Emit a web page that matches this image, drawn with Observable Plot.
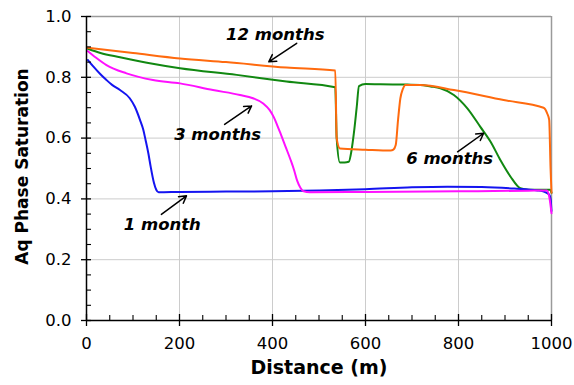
<!DOCTYPE html>
<html>
<head>
<meta charset="utf-8">
<script src="https://cdn.jsdelivr.net/npm/d3@7"></script>
<script src="https://cdn.jsdelivr.net/npm/@observablehq/plot@0.6"></script>
<style>
  html, body { margin: 0; padding: 0; background: #fff; }
  #chart svg { display: block; }
</style>
</head>
<body>
<div id="chart"></div>
<script>
// ---- data ----
const month1X = [3,15,30,43,55,72,93,104,115,122,127,133,138,145,150,155,200,300,400,500,600,700,776,850,920,970,985,995,998,1000];
const month1Y = [0.857,0.835,0.81,0.791,0.775,0.758,0.731,0.703,0.660,0.628,0.594,0.55,0.506,0.453,0.43,0.422,0.423,0.424,0.425,0.428,0.432,0.438,0.440,0.439,0.434,0.428,0.423,0.414,0.40,0.36];

const month3X = [3,20,43,86,143,201,272,330,358,380,394,403,410,417,428,439,447,453,460,467,480,600,800,950,990,996,1000];
const month3Y = [0.886,0.865,0.840,0.813,0.791,0.780,0.758,0.742,0.731,0.714,0.692,0.668,0.643,0.616,0.572,0.528,0.492,0.460,0.437,0.425,0.422,0.423,0.425,0.427,0.428,0.40,0.353];

const month6X = [3,30,72,130,201,323,430,535,538,545,555,564,570,575,581,586,600,632,690,718,740,761,790,819,847,869,890,912,933,950,990,997,1000];
const month6Y = [0.894,0.880,0.866,0.848,0.830,0.808,0.786,0.767,0.60,0.520,0.520,0.522,0.56,0.616,0.70,0.771,0.778,0.777,0.776,0.775,0.770,0.764,0.742,0.698,0.637,0.588,0.528,0.473,0.435,0.430,0.43,0.43,0.42];

const month12X = [3,100,201,300,430,535,538,545,600,654,660,665,670,675,680,686,718,790,897,983,991,995,998,1000];
const month12Y = [0.897,0.880,0.862,0.850,0.832,0.822,0.60,0.566,0.562,0.559,0.562,0.577,0.66,0.731,0.76,0.775,0.775,0.758,0.725,0.700,0.68,0.66,0.50,0.42];

const xMajorTicks = [0,200,400,600,800,1000];
const xMinorTicks = [50,100,150,250,300,350,450,500,550,650,700,750,850,900,950];
const yMajorTicks = [0,0.2,0.4,0.6,0.8,1.0];
const yMinorTicks = [0.05,0.1,0.15,0.25,0.3,0.35,0.45,0.5,0.55,0.65,0.7,0.75,0.85,0.9,0.95];

const labelText = ["12 months","3 months","6 months","1 month"];
const labelX = [406, 282, 781, 163];
const labelY = [0.939, 0.610, 0.531, 0.314];
const arrowX1 = [452, 297, 798, 161];
const arrowY1 = [0.912, 0.645, 0.555, 0.349];
const arrowX2 = [392, 355, 854, 215];
const arrowY2 = [0.851, 0.706, 0.616, 0.410];

const xTitle = "Distance (m)";
const yTitle = "Aq Phase Saturation";

// ---- build rows ----
const rows = (xs, ys) => xs.map((x, i) => ({x, y: ys[i]}));
const labels = labelText.map((t, i) => ({t, x: labelX[i], y: labelY[i]}));
const arrows = labelText.map((t, i) => ({x1: arrowX1[i], y1: arrowY1[i], x2: arrowX2[i], y2: arrowY2[i]}));

const W = 574, H = 385, mL = 86, mR = 23, mT = 16, mB = 65;
const plotW = W - mL - mR, plotH = H - mT - mB;
const tickFont = 16.5;
const curve = "monotone-x";

const chart = Plot.plot({
  width: W, height: H,
  marginLeft: mL, marginRight: mR, marginTop: mT, marginBottom: mB,
  style: {fontFamily: "'DejaVu Sans', sans-serif", background: "#fff", color: "#000"},
  x: {domain: [0, 1000], axis: null},
  y: {domain: [0, 1], axis: null},
  marks: [
    Plot.ruleX(xMajorTicks.filter(d => d > 0 && d < 1000), {stroke: "#cccccc", strokeWidth: 1}),
    Plot.ruleY(yMajorTicks.filter(d => d > 0 && d < 1), {stroke: "#cccccc", strokeWidth: 1}),
    Plot.ruleX([1000], {stroke: "#9a9a9a", strokeWidth: 1.5}),
    Plot.ruleY([1], {stroke: "#9a9a9a", strokeWidth: 1.5}),
    // series
    Plot.line(rows(month6X, month6Y), {x: "x", y: "y", stroke: "#118811", strokeWidth: 2, curve}),
    Plot.line(rows(month12X, month12Y), {x: "x", y: "y", stroke: "#ff6a0e", strokeWidth: 2, curve}),
    Plot.line(rows(month1X, month1Y), {x: "x", y: "y", stroke: "#1414f0", strokeWidth: 2, curve}),
    Plot.line(rows(month3X, month3Y), {x: "x", y: "y", stroke: "#ff10ff", strokeWidth: 2, curve}),
    // axes lines
    Plot.ruleY([0], {stroke: "#000", strokeWidth: 1.5}),
    Plot.ruleX([0], {stroke: "#000", strokeWidth: 1.5}),
    // x ticks
    Plot.ruleX(xMajorTicks, {stroke: "#000", strokeWidth: 1.3, insetTop: plotH - 6, insetBottom: -6}),
    Plot.ruleX(xMinorTicks, {stroke: "#000", strokeWidth: 1.1, insetTop: plotH - 5}),
    // y ticks
    Plot.ruleY(yMajorTicks, {stroke: "#000", strokeWidth: 1.3, insetRight: plotW - 5, insetLeft: -5}),
    Plot.ruleY(yMinorTicks, {stroke: "#000", strokeWidth: 1.1, insetRight: plotW - 5}),
    // tick labels
    Plot.axisX(xMajorTicks, {tickSize: 0, tickPadding: 17, fontSize: tickFont, tickFormat: d3.format("d"), label: null}),
    Plot.axisY(yMajorTicks, {tickSize: 0, tickPadding: 15, fontSize: tickFont, tickFormat: d3.format(".1f"), label: null}),
    // axis titles
    Plot.text([xTitle], {frameAnchor: "bottom", dy: 53, dx: 0, textAnchor: "middle", fontSize: 19, fontWeight: "bold", fill: "#000"}),
    Plot.text([yTitle], {frameAnchor: "left", dx: -64, dy: -2, rotate: -90, textAnchor: "middle", fontSize: 17, fontWeight: "bold", fill: "#000"}),
    // annotations
    Plot.arrow(arrows, {x1: "x1", y1: "y1", x2: "x2", y2: "y2", stroke: "#000", strokeWidth: 1.5, headLength: 8}),
    Plot.text(labels, {x: "x", y: "y", text: "t", fontSize: 16.5, fontWeight: "bold", fontStyle: "italic", fill: "#000"})
  ]
});
document.getElementById("chart").appendChild(chart);
</script>
</body>
</html>
